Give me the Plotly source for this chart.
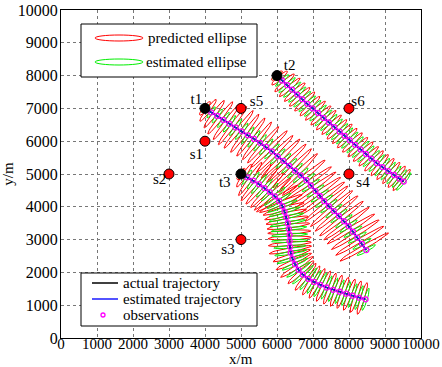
import numpy as np
import plotly.graph_objects as go

# ---------------- data ----------------
sensor_x = [4000, 3000, 5000, 8000, 5000, 8000]
sensor_y = [6000, 5000, 3000, 5000, 7000, 7000]
sensor_names = ["s1", "s2", "s3", "s4", "s5", "s6"]
sensor_label_x = [3760, 2740, 4640, 8390, 5430, 8250]
sensor_label_y = [5570, 4810, 2680, 4710, 7200, 7200]

start_x = [4000, 6000, 5000]
start_y = [7000, 8000, 5000]
start_names = ["t1", "t2", "t3"]
start_label_x = [3760, 6350, 4550]
start_label_y = [7250, 8270, 4710]

trackA_x = [4000, 4170, 4340, 4510, 4680, 4850, 5020, 5190, 5360, 5530, 5700,
            5860, 6020, 6180, 6340, 6500, 6660, 6815,
            6940, 7070, 7190, 7310, 7440, 7580, 7720, 7860, 7990, 8110, 8230, 8360, 8480]
trackA_y = [7000, 6880, 6770, 6650, 6530, 6420, 6300, 6180, 6070, 5950, 5830,
            5690, 5540, 5400, 5250, 5100, 4960, 4811,
            4650, 4480, 4330, 4170, 4020, 3870, 3720, 3560, 3410, 3240, 3060, 2870, 2680]

trackB_x = [6000, 6140, 6280, 6420, 6560, 6700, 6840, 6990, 7140, 7290, 7440, 7590,
            7740, 7880, 8020, 8170, 8320, 8470, 8620, 8770, 8930, 9090, 9250, 9400, 9520]
trackB_y = [8000, 7850, 7710, 7570, 7420, 7280, 7140, 7000, 6860, 6710, 6570, 6430,
            6290, 6160, 6030, 5890, 5750, 5610, 5470, 5330, 5210, 5090, 4970, 4860, 4770]

trackC_x = [5000, 5170, 5340, 5500, 5650, 5800, 5940, 6060, 6150, 6210, 6260, 6300,
            6330, 6350, 6350, 6360, 6380, 6430, 6500, 6600, 6720, 6870, 7030, 7200,
            7380, 7560, 7740, 7920, 8100, 8280, 8460]
trackC_y = [5000, 4900, 4800, 4690, 4570, 4450, 4320, 4180, 4020, 3850, 3680, 3500,
            3320, 3140, 2960, 2780, 2600, 2420, 2250, 2080, 1930, 1800, 1710, 1620,
            1540, 1470, 1410, 1350, 1290, 1230, 1180]

# semi-major axes (m) of predicted / estimated ellipses at each step
predA_a = [250, 400, 500, 600, 650, 700, 700, 700, 700, 700, 700, 750, 750, 800, 800, 800,
           800, 800, 800, 800, 800, 800, 800, 800, 800, 800, 800, 800, 800, 800, 800]
estA_a = [150, 200, 250, 280, 300, 300, 300, 300, 300, 300, 300, 300, 300, 300, 300, 300,
          300, 300, 300, 300, 300, 300, 300, 300, 300, 300, 300, 300, 300, 300, 300]
predB_a = [200, 300, 380, 400, 400, 400, 400, 400, 400, 400, 400, 400, 400,
           400, 400, 400, 400, 400, 400, 400, 400, 400, 400, 400, 400]
estB_a = [150, 250, 320, 330, 330, 330, 330, 330, 330, 330, 330, 330, 330,
          330, 330, 330, 330, 330, 330, 330, 330, 330, 330, 330, 330]
predC_a = [200, 400, 600, 700, 700, 700, 700, 700, 650, 600, 600, 600, 600, 600, 600, 600,
           600, 550, 550, 550, 500, 500, 500, 500, 500, 500, 500, 500, 500, 500, 500]
estC_a = [150, 250, 300, 350, 350, 350, 400, 400, 450, 450, 500, 500, 500, 500, 500, 450,
          450, 450, 400, 400, 400, 400, 400, 400, 380, 380, 380, 380, 380, 380, 350]

pred_b = 60   # semi-minor axis (m)
est_b = 45

legend1_labels = ["predicted ellipse", "estimated ellipse"]
legend2_labels = ["actual trajectory", "estimated trajectory", "observations"]
x_title, y_title = "x/m", "y/m"

tracks = [
    (trackA_x, trackA_y, predA_a, estA_a),
    (trackB_x, trackB_y, predB_a, estB_a),
    (trackC_x, trackC_y, predC_a, estC_a),
]

FONT = "Liberation Serif, Times New Roman, Times, serif"
RED, GREEN, BLUE, MAG = "#ff0000", "#00ee00", "#1a1aff", "#ff00ff"

W, H = 442, 367
ML, MR, MT, MB = 61, 21, 10, 29
PW, PH = W - ML - MR, H - MT - MB


def px2x(p):
    return (p - ML) / PW


def px2y(p):
    return (H - MB - p) / PH


def ellipse_xy(cx, cy, a, b, ang, n=36):
    t = np.linspace(0, 2 * np.pi, n)
    ex = cx + a * np.cos(t) * np.cos(ang) - b * np.sin(t) * np.sin(ang)
    ey = cy + a * np.cos(t) * np.sin(ang) + b * np.sin(t) * np.cos(ang)
    return list(ex) + [None], list(ey) + [None]


red_x, red_y, green_x, green_y = [], [], [], []
for tx, ty, pa, ea in tracks:
    px = np.array(tx, float)
    py = np.array(ty, float)
    n = len(px)
    for k in range(n):
        k0, k1 = max(k - 1, 0), min(k + 1, n - 1)
        ang = np.arctan2(py[k1] - py[k0], px[k1] - px[k0]) + np.pi / 2
        if k > 0:
            pcx, pcy = (px[k - 1] + px[k]) / 2, (py[k - 1] + py[k]) / 2
        else:
            pcx, pcy = px[k], py[k]
        ex, ey = ellipse_xy(pcx, pcy, pa[k], pred_b, ang)
        red_x += ex
        red_y += ey
        ex, ey = ellipse_xy(px[k], py[k], ea[k], est_b, ang)
        green_x += ex
        green_y += ey

fig = go.Figure()

fig.add_trace(go.Scatter(x=red_x, y=red_y, mode="lines", line=dict(color=RED, width=1),
                         name=legend1_labels[0], showlegend=False))
fig.add_trace(go.Scatter(x=green_x, y=green_y, mode="lines", line=dict(color=GREEN, width=1),
                         name=legend1_labels[1], showlegend=False))

for tx, ty, _, _ in tracks:
    fig.add_trace(go.Scatter(x=tx, y=ty, mode="lines", line=dict(color="black", width=1.6),
                             name=legend2_labels[0], showlegend=False))
for tx, ty, _, _ in tracks:
    fig.add_trace(go.Scatter(x=tx, y=ty, mode="lines", line=dict(color=BLUE, width=1.2),
                             name=legend2_labels[1], showlegend=False))
for tx, ty, _, _ in tracks:
    fig.add_trace(go.Scatter(x=tx, y=ty, mode="markers",
                             marker=dict(symbol="circle-open", color=MAG, size=5,
                                         line=dict(width=1.3)),
                             name=legend2_labels[2], showlegend=False))

fig.add_trace(go.Scatter(x=sensor_x, y=sensor_y, mode="markers",
                         marker=dict(color=RED, size=10, line=dict(color="black", width=1)),
                         showlegend=False))
fig.add_trace(go.Scatter(x=start_x, y=start_y, mode="markers",
                         marker=dict(color="black", size=10, line=dict(color="black", width=1)),
                         showlegend=False))
fig.add_trace(go.Scatter(x=sensor_label_x + start_label_x, y=sensor_label_y + start_label_y,
                         mode="text", text=sensor_names + start_names,
                         textfont=dict(family=FONT, size=15, color="black"),
                         showlegend=False))

axis_common = dict(
    showline=True, mirror=True, linecolor="black", linewidth=1,
    showgrid=True, gridcolor="#777777", griddash="dot", gridwidth=1,
    zeroline=False, ticks="", tickmode="linear", dtick=1000, tickformat="d",
    automargin=False,
)
fig.update_xaxes(range=[0, 10000], tick0=0, tickangle=0, ticklabelstandoff=-8,
                 tickfont=dict(family=FONT, size=15, color="black"),
                 **axis_common)
fig.update_yaxes(range=[0, 10000], tick0=0, ticklabelstandoff=-1,
                 tickfont=dict(family=FONT, size=16, color="black"),
                 title=dict(text=y_title, standoff=2,
                            font=dict(family=FONT, size=15, color="black")),
                 **axis_common)

# ---------------- hand-built legends (paper coordinates) ----------------
shapes = []
annotations = []


def legend_box(x0, y0, x1, y1):
    shapes.append(dict(type="rect", xref="paper", yref="paper",
                       x0=px2x(x0), x1=px2x(x1), y0=px2y(y1), y1=px2y(y0),
                       line=dict(color="black", width=1), fillcolor="white", layer="above"))


def legend_text(x, y, s):
    annotations.append(dict(xref="paper", yref="paper", x=px2x(x), y=px2y(y), text=s,
                            showarrow=False, xanchor="left", yanchor="middle",
                            font=dict(family=FONT, size=15, color="black")))


legend_box(81, 24, 257, 77)
for (cy, col, lab, tx0) in [(38, RED, legend1_labels[0], 146), (62, GREEN, legend1_labels[1], 144)]:
    shapes.append(dict(type="circle", xref="paper", yref="paper",
                       x0=px2x(95), x1=px2x(143), y0=px2y(cy + 3), y1=px2y(cy - 3),
                       line=dict(color=col, width=1), layer="above"))
    legend_text(tx0, cy, lab)

legend_box(81, 273, 257, 326)
for (cy, col, lab) in [(283, "black", legend2_labels[0]), (299, BLUE, legend2_labels[1])]:
    shapes.append(dict(type="line", xref="paper", yref="paper",
                       x0=px2x(92), x1=px2x(118), y0=px2y(cy), y1=px2y(cy),
                       line=dict(color=col, width=1.5), layer="above"))
    legend_text(121, cy, lab)
shapes.append(dict(type="circle", xref="paper", yref="paper",
                   x0=px2x(101), x1=px2x(105), y0=px2y(317), y1=px2y(313),
                   line=dict(color=MAG, width=1.3), layer="above"))
legend_text(121, 315, legend2_labels[2])

# x-axis title placed just under the tick labels
annotations.append(dict(xref="paper", yref="paper", x=0.5, y=px2y(358.5), text=x_title,
                        showarrow=False, xanchor="center", yanchor="middle", borderpad=0,
                        font=dict(family=FONT, size=15, color="black")))

fig.update_layout(
    width=W, height=H,
    margin=dict(l=ML, r=MR, t=MT, b=MB),
    paper_bgcolor="white", plot_bgcolor="white",
    showlegend=False,
    shapes=shapes, annotations=annotations,
)

fig.write_html("out.html")
